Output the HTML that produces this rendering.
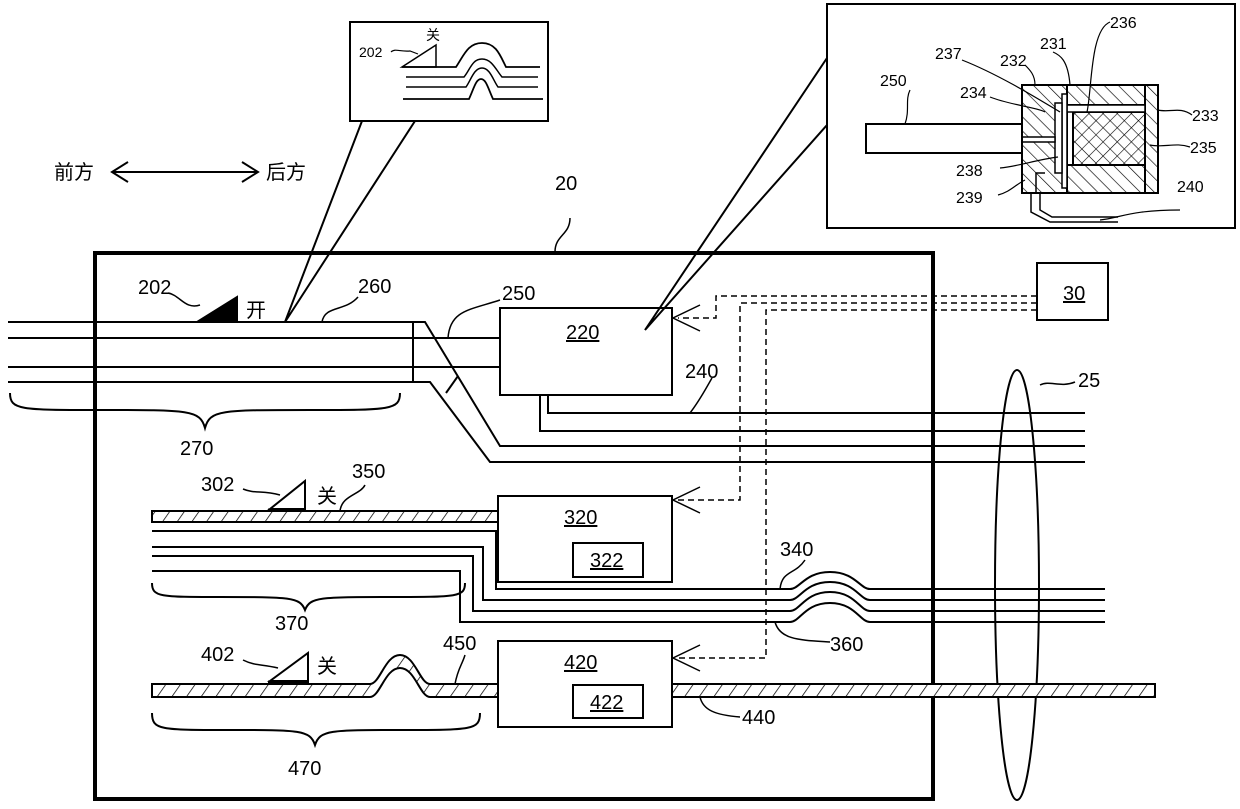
<!DOCTYPE html>
<html><head><meta charset="utf-8"><style>body{margin:0;background:#fff}svg{display:block}text{font-family:"Liberation Sans","Noto Sans CJK SC",sans-serif;fill:#000}</style></head><body>
<svg width="1240" height="809" viewBox="0 0 1240 809" xmlns="http://www.w3.org/2000/svg">
<defs>
<pattern id="h" width="12" height="12" patternUnits="userSpaceOnUse" patternTransform="rotate(35)"><rect width="12" height="12" fill="#fff"/><line x1="0" y1="0" x2="0" y2="12" stroke="#000" stroke-width="1.5"/></pattern>
<pattern id="h2" width="10" height="10" patternUnits="userSpaceOnUse" patternTransform="rotate(-45)"><rect width="10" height="10" fill="#fff"/><line x1="0" y1="0" x2="0" y2="10" stroke="#000" stroke-width="1.3"/></pattern>
<pattern id="x" width="10" height="10" patternUnits="userSpaceOnUse" patternTransform="rotate(45)"><rect width="10" height="10" fill="#fff"/><line x1="0" y1="0" x2="0" y2="10" stroke="#000" stroke-width="1.2"/><line x1="0" y1="0" x2="10" y2="0" stroke="#000" stroke-width="1.2"/></pattern>
</defs>
<g fill="none" stroke="#000" stroke-width="2">
<rect x="95" y="253" width="838" height="546" stroke-width="4"/>
<line x1="112" y1="172" x2="258" y2="172"/><polyline points="128,162 112,172 128,182"/><polyline points="242,162 258,172 242,182"/>
<polyline points="8,322 425,322 500,446 1085,446"/>
<line x1="8" y1="338" x2="500" y2="338"/>
<line x1="8" y1="367" x2="500" y2="367"/>
<polyline points="8,382 430,382 490,462 1085,462"/>
<line x1="413" y1="322" x2="413" y2="382"/>
<line x1="446" y1="393" x2="458" y2="376"/>
<rect x="500" y="308" width="172" height="87" fill="#fff"/>
<polyline points="548,395 548,413 1085,413"/>
<polyline points="540,395 540,431 1085,431"/>
<polygon points="197,322 237,322 237,297" fill="#000"/>
<polyline points="362,121 285,322 415,121"/>
<polyline points="827,58 645,330 827,125"/>
<!-- top-left inset -->
<rect x="350" y="22" width="198" height="99" fill="#fff"/>
<path d="M391,52 C395,48 400,52 410,51 L418,54" stroke-width="1.2"/>
<polygon points="402,67 436,67 436,45" stroke-width="1.5"/>
<path d="M402,67 H456 C464,55 468,43 482,43 C496,43 500,55 506,67 H540" stroke-width="1.8"/>
<path d="M406,77 H464 C470,70 472,59 482,59 C492,59 496,70 502,77 H538" stroke-width="1.5"/>
<path d="M406,87 H466 C471,80 474,68 482,68 C490,68 493,80 498,87 H538" stroke-width="1.5"/>
<path d="M403,99 H469 C474,88 476,79 481,79 C486,79 488,88 493,99 H543" stroke-width="1.8"/>
<ellipse cx="1017" cy="585" rx="22" ry="215"/>
<rect x="1037" y="263" width="71" height="57"/>
<g stroke-dasharray="6,4" stroke-width="1.5">
<polyline points="1037,296 716,296 716,318 678,318"/>
<polyline points="1037,303 740,303 740,500 678,500"/>
<polyline points="1037,310 766,310 766,658 678,658"/>
</g>
<polyline points="700,305 673,318 700,331" stroke-width="1.5"/>
<polyline points="700,487 673,500 700,513" stroke-width="1.5"/>
<polyline points="700,645 673,658 700,671" stroke-width="1.5"/>
<rect x="152" y="511" width="346" height="11" fill="url(#h)"/>
<polygon points="270,509 305,509 305,481"/>
<line x1="268" y1="510" x2="306" y2="510" stroke-width="3"/>
<rect x="498" y="496" width="174" height="86" fill="#fff"/>
<rect x="573" y="543" width="70" height="34"/>
<path d="M152,531 H496 V589 H790 C800,589 805,572 830,572 C855,572 860,589 870,589 H1105"/>
<path d="M152,547 H483 V600 H790 C800,600 805,582 830,582 C855,582 860,600 870,600 H1105"/>
<path d="M152,556 H473 V611 H790 C800,611 805,592 830,592 C855,592 860,611 870,611 H1105"/>
<path d="M152,571 H460 V622 H790 C800,622 805,603 830,603 C855,603 860,622 870,622 H1105"/>
<path d="M152,684 H370 C380,684 385,655 400,655 C415,655 420,684 430,684 H498 V697 H430 C420,697 415,668 400,668 C385,668 380,697 370,697 H152 Z" fill="url(#h)"/>
<polygon points="270,681 308,681 308,653"/>
<line x1="268" y1="682" x2="309" y2="682" stroke-width="3"/>
<rect x="672" y="684" width="483" height="13" fill="url(#h)"/>
<rect x="498" y="641" width="174" height="86" fill="#fff"/>
<rect x="573" y="685" width="70" height="33"/>
<path d="M10,393 C10,410 20,410 100,410 C190,410 200,410 205,428 C210,410 220,410 310,410 C390,410 400,410 400,393"/>
<path d="M152,583 C152,597 160,597 220,597 C290,597 300,597 305,610 C310,597 320,597 390,597 C458,597 465,597 465,583"/>
<path d="M152,713 C152,730 160,730 230,730 C300,730 310,730 315,745 C320,730 330,730 400,730 C472,730 480,730 480,713"/>
<g stroke-width="1.5">
<path d="M168,293 C180,295 185,310 200,305"/>
<path d="M322,322 C325,305 345,312 358,297"/>
<path d="M448,338 C450,310 470,310 500,300"/>
<path d="M690,413 C700,400 705,390 712,378"/>
<path d="M1040,385 C1050,380 1060,388 1075,382"/>
<path d="M243,489 C255,494 262,490 280,495"/>
<path d="M340,511 C342,495 360,495 365,485"/>
<path d="M243,660 C255,666 262,664 278,668"/>
<path d="M455,684 C458,668 462,665 465,655"/>
<path d="M780,589 C782,570 795,575 805,560"/>
<path d="M775,622 C780,640 800,640 830,642"/>
<path d="M700,697 C703,710 715,715 740,717"/>
<path d="M555,252 C555,235 570,235 570,218"/>
</g>
<rect x="827" y="4" width="408" height="224"/>
<rect x="866" y="124" width="156" height="29"/>
<rect x="1022" y="85" width="45" height="108" fill="url(#h2)"/>
<rect x="1067" y="85" width="78" height="20" fill="url(#h2)"/>
<rect x="1067" y="165" width="78" height="28" fill="url(#h2)"/>
<rect x="1145" y="85" width="13" height="108" fill="url(#h2)"/>
<rect x="1073" y="112" width="72" height="53" fill="url(#x)"/>
<rect x="1067" y="105" width="78" height="7" fill="#fff" stroke-width="1.5"/>
<rect x="1062" y="94" width="5" height="94" fill="#fff" stroke-width="1.5"/>
<rect x="1055" y="103" width="7" height="70" fill="#fff" stroke-width="1.5"/>
<rect x="1022" y="137" width="33" height="5" fill="#fff" stroke-width="1.5"/>
<rect x="1022" y="85" width="136" height="108" stroke-width="2"/>
<polyline points="1036,193 1036,173 1045,173" stroke-width="1.5"/>
<polyline points="1031,193 1031,212 1050,222 1118,222" stroke-width="1.5"/>
<polyline points="1040,193 1040,210 1052,217 1118,217" stroke-width="1.5"/>
<g stroke-width="1.2">
<path d="M1087,112 C1092,90 1090,30 1110,22"/>
<path d="M1053,52 C1060,55 1068,60 1070,85"/>
<path d="M962,60 C1000,75 1040,100 1060,112"/>
<path d="M1025,65 C1030,70 1035,75 1035,85"/>
<path d="M910,90 C905,100 910,110 905,124"/>
<path d="M990,97 C1010,105 1040,108 1045,112"/>
<path d="M1158,110 C1170,113 1180,106 1192,115"/>
<path d="M1150,145 C1165,148 1175,142 1190,147"/>
<path d="M1000,168 C1020,166 1035,160 1058,157"/>
<path d="M998,195 C1010,192 1015,185 1025,180"/>
<path d="M1100,220 C1120,218 1130,210 1180,210"/>
</g>
</g>
<g font-size="20">
<text x="54" y="179">前方</text><text x="266" y="179">后方</text>
<text x="555" y="190">20</text>
<text x="138" y="294">202</text>
<text x="246" y="317">开</text>
<text x="358" y="293">260</text>
<text x="502" y="300">250</text>
<text x="566" y="339" text-decoration="underline">220</text>
<text x="685" y="378">240</text>
<text x="1078" y="387">25</text>
<text x="1063" y="300" text-decoration="underline">30</text>
<text x="180" y="455">270</text>
<text x="201" y="491">302</text>
<text x="317" y="503">关</text>
<text x="352" y="478">350</text>
<text x="564" y="524" text-decoration="underline">320</text>
<text x="590" y="567" text-decoration="underline">322</text>
<text x="780" y="556">340</text>
<text x="275" y="630">370</text>
<text x="830" y="651">360</text>
<text x="201" y="661">402</text>
<text x="317" y="673">关</text>
<text x="443" y="650">450</text>
<text x="564" y="669" text-decoration="underline">420</text>
<text x="590" y="709" text-decoration="underline">422</text>
<text x="742" y="724">440</text>
<text x="288" y="775">470</text>
</g>
<g font-size="16">
<text x="1110" y="28">236</text>
<text x="1040" y="49">231</text>
<text x="935" y="59">237</text>
<text x="1000" y="66">232</text>
<text x="880" y="86">250</text>
<text x="960" y="98">234</text>
<text x="1192" y="121">233</text>
<text x="1190" y="153">235</text>
<text x="956" y="176">238</text>
<text x="956" y="203">239</text>
<text x="1177" y="192">240</text>
</g>
<g font-size="14"><text x="359" y="57">202</text><text x="426" y="40">关</text></g>
</svg>
</body></html>
